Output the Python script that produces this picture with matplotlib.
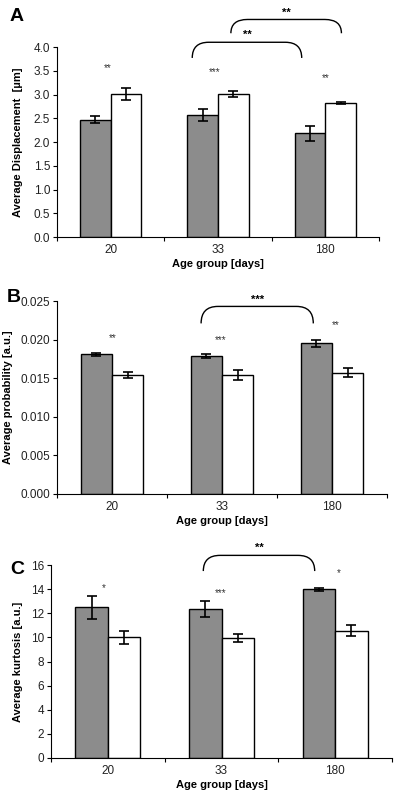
import matplotlib
matplotlib.use("Agg")
import matplotlib.pyplot as plt
from matplotlib.path import Path
from matplotlib.patches import PathPatch
import numpy as np

plt.rcParams['font.family'] = ['Liberation Sans', 'DejaVu Sans']

groups = ['20', '33', '180']

disp_gray = [2.47, 2.57, 2.18]
disp_gray_err = [0.07, 0.12, 0.16]
disp_white = [3.01, 3.01, 2.82]
disp_white_err = [0.12, 0.07, 0.02]
disp_stars = ['**', '***', '**']

prob_gray = [0.0181, 0.0179, 0.0195]
prob_gray_err = [0.0002, 0.0003, 0.0004]
prob_white = [0.0154, 0.0154, 0.0157]
prob_white_err = [0.0004, 0.0006, 0.0006]
prob_stars = ['**', '***', '**']

kurt_gray = [12.5, 12.35, 14.0]
kurt_gray_err = [0.95, 0.7, 0.12]
kurt_white = [10.0, 9.93, 10.55]
kurt_white_err = [0.57, 0.33, 0.45]
kurt_stars = ['*', '***', '*']


def bracket(ax, x0, x1, ytop, yend, label, ly):
    dx = (x1 - x0) * 0.15
    verts = [(x0, yend), (x0, ytop), (x0 + dx, ytop),
             (x1 - dx, ytop), (x1, ytop), (x1, yend)]
    codes = [Path.MOVETO, Path.CURVE3, Path.CURVE3,
             Path.LINETO, Path.CURVE3, Path.CURVE3]
    ax.add_patch(PathPatch(Path(verts, codes), fill=False, lw=1.0,
                           color='black', clip_on=False))
    ax.text((x0 + x1) / 2, ly, label, ha='center', va='center',
            fontsize=8, fontweight='bold', clip_on=False)


def panel(ax, gray, gerr, white, werr, stars, star_y, ylim, yticks, fmt,
          ylabel, letter, lx, ly, ylab_x):
    x = np.arange(len(groups))
    w = 0.285
    ekw = dict(elinewidth=1.2, capthick=1.2)
    ax.bar(x - w / 2, gray, w, color='#8c8c8c', edgecolor='black', lw=1.0,
           yerr=gerr, capsize=3.5, error_kw=ekw)
    ax.bar(x + w / 2, white, w, color='white', edgecolor='black', lw=1.0,
           yerr=werr, capsize=3.5, error_kw=ekw)
    for i, s in enumerate(stars):
        ax.text(star_y[i][0], star_y[i][1], s, ha='center', va='center',
                fontsize=7, color='#333333')
    ax.set_xlim(-0.5, 2.5)
    ax.set_ylim(*ylim)
    ax.set_yticks(yticks)
    ax.set_yticklabels([fmt.format(t) for t in yticks], fontsize=8.5,
                       color='#222222')
    ax.set_xticks([-0.5, 0.5, 1.5, 2.5])
    ax.set_xticklabels([])
    ax.set_xticks(x, minor=True)
    ax.set_xticklabels(groups, minor=True, fontsize=8.5, color='#222222')
    ax.tick_params(axis='x', which='minor', length=0, pad=5)
    ax.tick_params(axis='x', which='major', length=3, direction='out')
    ax.tick_params(axis='y', length=3, direction='out', pad=2)
    for sp in ['top', 'right']:
        ax.spines[sp].set_visible(False)
    ax.set_xlabel('Age group [days]', fontsize=8, fontweight='bold',
                  labelpad=2)
    ax.set_ylabel(ylabel, fontsize=8, fontweight='bold')
    ax.yaxis.set_label_coords(ylab_x, 0.5)
    ax.figure.text(lx, ly, letter, fontsize=14, fontweight='bold',
                   ha='left', va='center')


fig = plt.figure(figsize=(4, 8.01), dpi=100)

axA = fig.add_axes([0.1425, 0.7041, 0.805, 0.2372])
panel(axA, disp_gray, disp_gray_err, disp_white, disp_white_err, disp_stars,
      [(-0.03, 3.55), (0.97, 3.48), (2.0, 3.35)],
      (0, 4.0), np.arange(0, 4.01, 0.5), '{:.1f}',
      'Average Displacement  [µm]', 'A', 0.025, 0.979, -0.105)
bracket(axA, 0.76, 1.78, 4.1, 3.77, '**', 4.25)
bracket(axA, 1.12, 2.15, 4.58, 4.29, '**', 4.72)

axB = fig.add_axes([0.1425, 0.3833, 0.825, 0.2409])
panel(axB, prob_gray, prob_gray_err, prob_white, prob_white_err, prob_stars,
      [(0.01, 0.0202), (0.99, 0.0200), (2.03, 0.0219)],
      (0, 0.025), np.arange(0, 0.02501, 0.005), '{:.3f}',
      'Average probability [a.u.]', 'B', 0.018, 0.629, -0.133)
bracket(axB, 0.81, 1.83, 0.0243, 0.0221, '***', 0.0251)

axC = fig.add_axes([0.1275, 0.0537, 0.8525, 0.2409])
panel(axC, kurt_gray, kurt_gray_err, kurt_white, kurt_white_err, kurt_stars,
      [(-0.04, 14.1), (0.99, 13.65), (2.03, 15.3)],
      (0, 16), np.arange(0, 16.1, 2), '{:.0f}',
      'Average kurtosis [a.u.]', 'C', 0.025, 0.289, -0.082)
bracket(axC, 0.84, 1.82, 16.8, 15.5, '**', 17.4)

fig.savefig('out.png', dpi=100)
